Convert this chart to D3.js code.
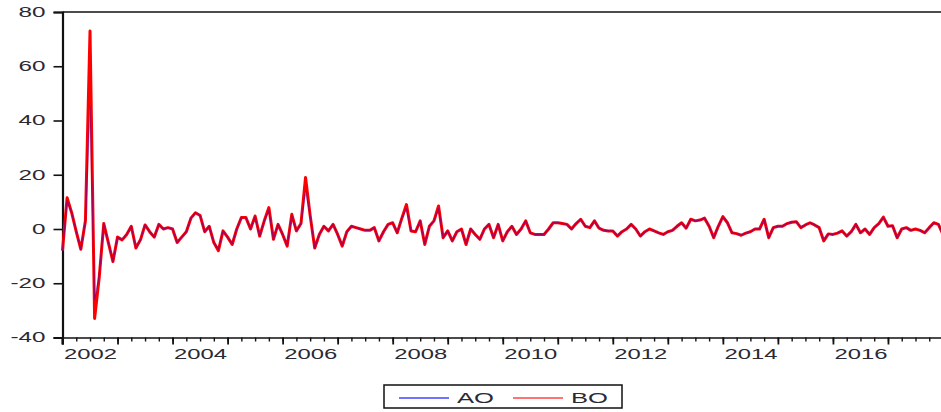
<!DOCTYPE html>
<html>
<head>
<meta charset="utf-8">
<script src="https://cdn.jsdelivr.net/npm/d3@7"></script>
<style>
  html, body { margin: 0; padding: 0; background: #fff; }
  svg { display: block; }
  text { font-family: "Liberation Sans", Arial, sans-serif; fill: #2a2a35; }
</style>
</head>
<body>
<svg id="chart" width="941" height="412"></svg>
<script>
// ---- data (monthly, starting 2002M01) ----
const startYear = 2002;
const seriesNames = ["AO", "BO"];
const seriesColors = ["#0000ff", "#ff0000"];
const yTicks = [-40, -20, 0, 20, 40, 60, 80];
const yearLabels = ["2002", "2004", "2006", "2008", "2010", "2012", "2014", "2016"];

const boValues = [
  -8, 11.5, 6, -1, -7.5, 3, 73, -33, -18, 2, -5, -12,
  -3, -4, -2, 1, -7, -4, 1.5, -1, -3, 1.7, 0, 0.5,
  0, -5, -3, -1, 4, 6, 5, -1, 1, -5, -8, -0.7,
  -3, -5.7, 0, 4.2, 4.2, 0, 4.8, -2.6, 3, 7.9, -3.8, 1.7,
  -2, -6.3, 5.4, -0.7, 2, 19, 5, -7, -2, 1, -0.7, 1.7,
  -2, -6.3, -1, 1, 0.5, 0, -0.5, -0.5, 0.5, -4.4, -1, 1.7,
  2.3, -1.4, 4, 9, -0.7, -1, 3, -5.7, 1, 3, 8.5, -3.2,
  -0.7, -4.4, -1, 0, -5.7, 0, -2, -3.8, 0, 1.7, -3.2, 1.7,
  -4.4, -1, 1, -2, 0, 3, -1.4, -2, -2, -2, 0, 2.3,
  2.3, 2, 1.7, 0, 2, 3.6, 1, 0.5, 3, 0.3, -0.5, -0.7,
  -0.7, -2.6, -1, 0, 1.7, 0, -2.6, -1, 0, -0.7, -1.4, -2,
  -1, -0.5, 1, 2.3, 0.3, 3.6, 3, 3.3, 4, 1, -3.2, 1,
  4.6, 2.3, -1.4, -1.7, -2.3, -1.5, -1, 0, 0, 3.6, -3.2, 0.5,
  1, 1, 2, 2.5, 2.7, 0.5, 1.5, 2.3, 1.5, 0.5, -4.4, -1.8,
  -2, -1.5, -0.7, -2.6, -1, 1.7, -1.4, 0, -2, 0.5, 2, 4.4,
  1, 1.2, -3.2, 0, 0.5, -0.5, 0, -0.5, -1.4, 0.5, 2.3, 1.7,
  -2
];
const aoValues = [
  -8, 10.5, 6, -1, -7.5, 3, 45, -26, -17, 2, -5, -12,
  -3, -4, -2, 1, -7, -4, 1.5, -1, -3, 1.7, 0, 0.5,
  0, -5, -3, -1, 4, 6, 5, -1, 1, -5, -7.5, -0.7,
  -3, -5.5, 0, 4.2, 4.2, 0, 4.5, -2.6, 3, 7, -3.8, 1.7,
  -2, -6, 5, -0.7, 2, 14, 5, -7, -2, 1, -0.7, 1.7,
  -2, -6, -1, 1, 0.5, 0, -0.5, -0.5, 0.5, -4.4, -1, 1.7,
  2.3, -1.4, 4, 7.5, -0.7, -1, 3, -5.5, 1, 3, 7.5, -3.2,
  -0.7, -4.4, -1, 0, -5.5, 0, -2, -3.8, 0, 1.7, -3.2, 1.7,
  -4.2, -1, 1, -2, 0, 3, -1.4, -2, -2, -2, 0, 2.3,
  2.3, 2, 1.7, 0, 2, 3.6, 1, 0.5, 3, 0.3, -0.5, -0.7,
  -0.7, -2.6, -1, 0, 1.7, 0, -2.6, -1, 0, -0.7, -1.4, -2,
  -1, -0.5, 1, 2.3, 0.3, 3.6, 3, 3.3, 4, 1, -3.2, 1,
  4.4, 2.3, -1.4, -1.7, -2.3, -1.5, -1, 0, 0, 3.4, -3.2, 0.5,
  1, 1, 2, 2.5, 2.7, 0.5, 1.5, 2.3, 1.5, 0.5, -4.2, -1.8,
  -2, -1.5, -0.7, -2.6, -1, 1.7, -1.4, 0, -2, 0.5, 2, 4.2,
  1, 1.2, -3.2, 0, 0.5, -0.5, 0, -0.5, -1.4, 0.5, 2.3, 1.7,
  -2
];

// ---- layout ----
const svg = d3.select("#chart");
const plotLeft = 62.5, plotTop = 12, plotBottom = 337.5, plotRight = 943;

const x = d3.scaleLinear().domain([0, 192]).range([plotLeft, plotRight]);
const y = d3.scaleLinear().domain([-40, 80]).range([plotBottom, plotTop]);

// frame: top line
svg.append("line").attr("x1", plotLeft).attr("x2", 941).attr("y1", plotTop).attr("y2", plotTop)
  .attr("stroke", "#111").attr("stroke-width", 1.6);

// y axis
const labelWidth = d => String(d).replace("-", "").length * 13.5 + (d < 0 ? 8 : 0);
const yAxis = svg.append("g").attr("transform", `translate(${plotLeft},0)`)
  .call(d3.axisLeft(y).tickValues(yTicks).tickSize(9).tickPadding(6).tickFormat(d => String(d)));
yAxis.select(".domain").attr("stroke", "#111").attr("stroke-width", 2.2);
yAxis.selectAll(".tick line").attr("stroke", "#111").attr("stroke-width", 1.6);
yAxis.selectAll(".tick text")
  .style("font-size", "14px")
  .attr("text-anchor", "start")
  .attr("x", d => -17 - labelWidth(d))
  .attr("textLength", labelWidth)
  .attr("lengthAdjust", "spacingAndGlyphs");

// x axis: minor (quarterly) ticks, major (yearly) ticks, labels centred in the year
const quarterTicks = d3.range(0, 193, 3);
const yearTicks = d3.range(0, 193, 12);
const xMinor = svg.append("g").attr("transform", `translate(0,${plotBottom})`)
  .call(d3.axisBottom(x).tickValues(quarterTicks).tickSize(4).tickFormat(""));
xMinor.select(".domain").remove();
xMinor.selectAll(".tick line").attr("stroke", "#111").attr("stroke-width", 1.4);

const xMajor = svg.append("g").attr("transform", `translate(0,${plotBottom})`)
  .call(d3.axisBottom(x).tickValues(yearTicks).tickSize(7).tickFormat(""));
xMajor.select(".domain").attr("stroke", "#111").attr("stroke-width", 1.6);
xMajor.selectAll(".tick line").attr("stroke", "#111").attr("stroke-width", 1.8);

const labelPos = yearLabels.map(s => (+s - startYear) * 12 + 6);
const xLab = svg.append("g").attr("transform", `translate(0,${plotBottom})`)
  .call(d3.axisBottom(x).tickValues(labelPos).tickSize(0).tickPadding(12)
    .tickFormat((d, i) => yearLabels[i]));
xLab.select(".domain").remove();
xLab.selectAll(".tick text")
  .style("font-size", "14px")
  .attr("text-anchor", "start")
  .attr("x", -26.5)
  .attr("textLength", 53)
  .attr("lengthAdjust", "spacingAndGlyphs");

// left frame extension below the axis
svg.append("line").attr("x1", plotLeft).attr("x2", plotLeft).attr("y1", plotBottom).attr("y2", plotBottom + 7)
  .attr("stroke", "#111").attr("stroke-width", 2.2);

// lines
const line = d3.line().x((d, i) => x(i)).y(d => y(d)).curve(d3.curveLinear);
svg.append("path").datum(boValues)
  .attr("d", line).attr("fill", "none")
  .attr("stroke", seriesColors[1]).attr("stroke-width", 3).attr("stroke-linejoin", "round");
svg.append("path").datum(aoValues)
  .attr("d", line).attr("fill", "none")
  .attr("stroke", seriesColors[0]).attr("stroke-opacity", 0.35)
  .attr("stroke-width", 1.3).attr("stroke-linejoin", "round");

// legend
const lg = svg.append("g");
lg.append("rect").attr("x", 384).attr("y", 385).attr("width", 238).attr("height", 23)
  .attr("fill", "#fff").attr("stroke", "#111").attr("stroke-width", 1.5);
const legendItems = [
  { name: seriesNames[0], color: seriesColors[0], x0: 399 },
  { name: seriesNames[1], color: seriesColors[1], x0: 513 }
];
legendItems.forEach(it => {
  lg.append("line").attr("x1", it.x0).attr("x2", it.x0 + 50).attr("y1", 398).attr("y2", 398)
    .attr("stroke", it.color).attr("stroke-opacity", 0.55).attr("stroke-width", 2);
  lg.append("text").attr("x", it.x0 + 58).attr("y", 403).text(it.name)
    .style("font-size", "14px").attr("textLength", 37).attr("lengthAdjust", "spacingAndGlyphs");
});
</script>
</body>
</html>
